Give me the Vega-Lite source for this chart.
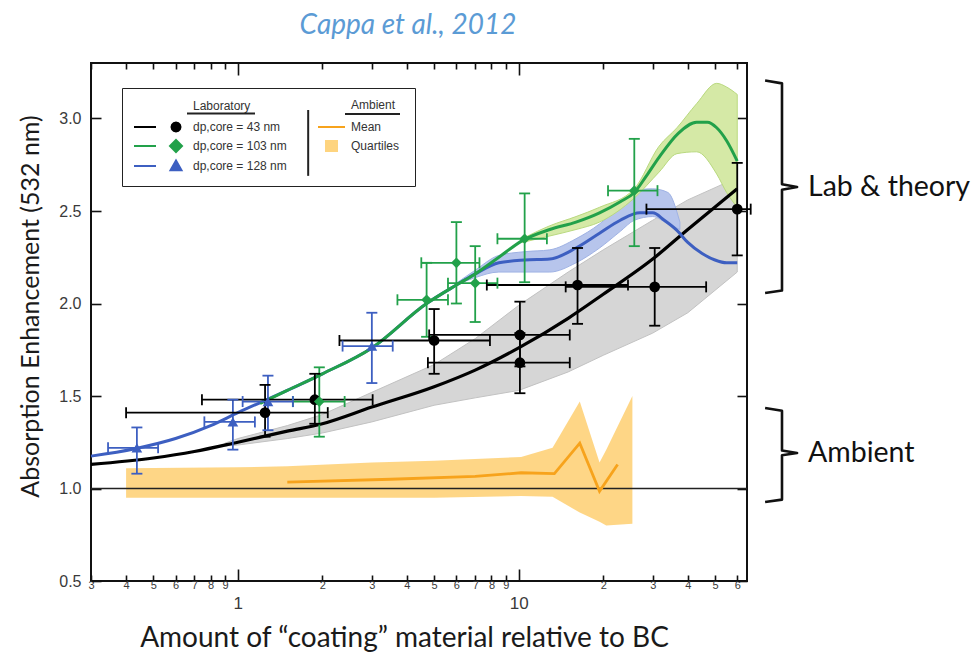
{
  "$schema": "https://vega.github.io/schema/vega-lite/v6.json",
  "width": 656,
  "height": 518,
  "autosize": {"type": "none"},
  "padding": {"left": 91, "top": 63, "right": 226, "bottom": 76},
  "background": "white",
  "title": {"text": "Cappa et al., 2012", "font": "Lato", "fontSize": 28, "fontStyle": "italic", "fontWeight": "normal", "color": "#5b9bd5", "anchor": "middle", "dx": -11, "offset": 22},
  "config": {
    "view": {"stroke": "#111", "strokeWidth": 2},
    "axis": {"grid": false, "domain": false, "labelFont": "Liberation Sans", "labelColor": "#3a3a3a", "tickColor": "#111", "tickWidth": 1.6, "titleFont": "Lato", "titleFontWeight": "normal", "titleColor": "#1a1a1a"}
  },
  "resolve": {"axis": {"x": "independent", "y": "independent"}},
  "datasets": {
    "curves": [
      {"s":"d43","x":0.3,"y":1.13},{"s":"d43","x":0.5,"y":1.165},{"s":"d43","x":0.7,"y":1.2},{"s":"d43","x":1,"y":1.25},{"s":"d43","x":1.5,"y":1.31},{"s":"d43","x":2,"y":1.35},{"s":"d43","x":3,"y":1.44},{"s":"d43","x":5,"y":1.55},{"s":"d43","x":7,"y":1.64},{"s":"d43","x":10,"y":1.76},{"s":"d43","x":15,"y":1.92},{"s":"d43","x":20,"y":2.05},{"s":"d43","x":30,"y":2.24},{"s":"d43","x":40,"y":2.4},{"s":"d43","x":60,"y":2.62},
      {"s":"d128","x":0.3,"y":1.175},{"s":"d128","x":0.43,"y":1.215},{"s":"d128","x":0.6,"y":1.27},{"s":"d128","x":0.8,"y":1.34},{"s":"d128","x":1,"y":1.41},{"s":"d128","x":1.5,"y":1.53},{"s":"d128","x":2,"y":1.62},{"s":"d128","x":3,"y":1.76},{"s":"d128","x":4.7,"y":2.0},{"s":"d128","x":6,"y":2.1},{"s":"d128","x":7,"y":2.16},{"s":"d128","x":8.5,"y":2.22},{"s":"d128","x":10.5,"y":2.235},{"s":"d128","x":12.9,"y":2.24},{"s":"d128","x":16,"y":2.3},{"s":"d128","x":19.4,"y":2.38},{"s":"d128","x":23,"y":2.45},{"s":"d128","x":27,"y":2.49},{"s":"d128","x":30,"y":2.49},{"s":"d128","x":33,"y":2.45},{"s":"d128","x":36.6,"y":2.395},{"s":"d128","x":40,"y":2.33},{"s":"d128","x":45,"y":2.27},{"s":"d128","x":50,"y":2.235},{"s":"d128","x":55,"y":2.22},{"s":"d128","x":60,"y":2.22},
      {"s":"d103","x":1.2,"y":1.46},{"s":"d103","x":1.5,"y":1.53},{"s":"d103","x":2,"y":1.62},{"s":"d103","x":3,"y":1.76},{"s":"d103","x":4.7,"y":2.0},{"s":"d103","x":6,"y":2.1},{"s":"d103","x":7,"y":2.16},{"s":"d103","x":8.5,"y":2.25},{"s":"d103","x":10.3,"y":2.34},{"s":"d103","x":12.9,"y":2.4},{"s":"d103","x":16,"y":2.44},{"s":"d103","x":19.4,"y":2.49},{"s":"d103","x":23,"y":2.55},{"s":"d103","x":25.8,"y":2.6},{"s":"d103","x":28.5,"y":2.69},{"s":"d103","x":31.6,"y":2.79},{"s":"d103","x":37,"y":2.92},{"s":"d103","x":43,"y":2.98},{"s":"d103","x":47,"y":2.98},{"s":"d103","x":50.7,"y":2.95},{"s":"d103","x":55,"y":2.88},{"s":"d103","x":60,"y":2.77}
    ],
    "bands": [
      {"s":"d43","x":0.9,"lo":1.23,"hi":1.245},{"s":"d43","x":1,"lo":1.235,"hi":1.27},{"s":"d43","x":1.5,"lo":1.27,"hi":1.34},{"s":"d43","x":2,"lo":1.3,"hi":1.4},{"s":"d43","x":3,"lo":1.36,"hi":1.52},{"s":"d43","x":5,"lo":1.45,"hi":1.67},{"s":"d43","x":7,"lo":1.49,"hi":1.81},{"s":"d43","x":10,"lo":1.53,"hi":1.99},{"s":"d43","x":15,"lo":1.63,"hi":2.17},{"s":"d43","x":20,"lo":1.72,"hi":2.29},{"s":"d43","x":30,"lo":1.84,"hi":2.45},{"s":"d43","x":40,"lo":1.95,"hi":2.56},{"s":"d43","x":60,"lo":2.17,"hi":2.68},
      {"s":"d103","x":10.3,"lo":2.33,"hi":2.35},{"s":"d103","x":12.9,"lo":2.365,"hi":2.42},{"s":"d103","x":16,"lo":2.4,"hi":2.47},{"s":"d103","x":19.4,"lo":2.44,"hi":2.52},{"s":"d103","x":25.8,"lo":2.57,"hi":2.62},{"s":"d103","x":31.6,"lo":2.71,"hi":2.85},{"s":"d103","x":36.6,"lo":2.81,"hi":2.95},{"s":"d103","x":43,"lo":2.82,"hi":3.08},{"s":"d103","x":50.7,"lo":2.7,"hi":3.19},{"s":"d103","x":55,"lo":2.6,"hi":3.17},{"s":"d103","x":60,"lo":2.52,"hi":3.13},
      {"s":"d128","x":6,"lo":2.1,"hi":2.11},{"s":"d128","x":7,"lo":2.14,"hi":2.18},{"s":"d128","x":8.5,"lo":2.17,"hi":2.26},{"s":"d128","x":10.5,"lo":2.17,"hi":2.28},{"s":"d128","x":12.9,"lo":2.17,"hi":2.29},{"s":"d128","x":16,"lo":2.22,"hi":2.35},{"s":"d128","x":19.4,"lo":2.3,"hi":2.43},{"s":"d128","x":23,"lo":2.39,"hi":2.53},{"s":"d128","x":25.8,"lo":2.45,"hi":2.61},{"s":"d128","x":30,"lo":2.47,"hi":2.62},{"s":"d128","x":34,"lo":2.43,"hi":2.6},{"s":"d128","x":37.5,"lo":2.4,"hi":2.44}
    ],
    "quart": [
      {"s":"Quartiles","x":0.4,"lo":0.95,"hi":1.11},{"s":"Quartiles","x":1,"lo":0.95,"hi":1.115},{"s":"Quartiles","x":1.5,"lo":0.95,"hi":1.12},{"s":"Quartiles","x":3,"lo":0.95,"hi":1.14},{"s":"Quartiles","x":5,"lo":0.95,"hi":1.15},{"s":"Quartiles","x":10.2,"lo":0.96,"hi":1.17},{"s":"Quartiles","x":13.2,"lo":0.955,"hi":1.22},{"s":"Quartiles","x":16.5,"lo":0.87,"hi":1.47},{"s":"Quartiles","x":19.4,"lo":0.82,"hi":1.14},{"s":"Quartiles","x":20.5,"lo":0.8,"hi":1.21},{"s":"Quartiles","x":25.4,"lo":0.81,"hi":1.5}
    ],
    "mean": [
      {"s":"Mean","x":1.5,"y":1.035},{"s":"Mean","x":3.5,"y":1.05},{"s":"Mean","x":7,"y":1.065},{"s":"Mean","x":10.2,"y":1.085},{"s":"Mean","x":13.4,"y":1.08},{"s":"Mean","x":16.5,"y":1.245},{"s":"Mean","x":19.4,"y":0.985},{"s":"Mean","x":22.5,"y":1.13}
    ],
    "pts": [
      {"s":"d43","x":1.25,"y":1.41,"xlo":0.4,"xhi":2.09,"ylo":1.28,"yhi":1.56},
      {"s":"d43","x":1.88,"y":1.48,"xlo":0.745,"xhi":3.02,"ylo":1.35,"yhi":1.62},
      {"s":"d43","x":5.0,"y":1.8,"xlo":2.3,"xhi":7.9,"ylo":1.62,"yhi":1.97},
      {"s":"d43","x":10.1,"y":1.83,"xlo":4.8,"xhi":15.2,"ylo":1.66,"yhi":2.01},
      {"s":"d43","x":10.1,"y":1.68,"xlo":4.75,"xhi":15.2,"ylo":1.515,"yhi":1.84},
      {"s":"d43","x":16.2,"y":2.1,"xlo":7.7,"xhi":24.5,"ylo":1.89,"yhi":2.3},
      {"s":"d43","x":30.5,"y":2.09,"xlo":14.7,"xhi":46.5,"ylo":1.88,"yhi":2.3},
      {"s":"d43","x":60,"y":2.51,"xlo":28.5,"xhi":67,"ylo":2.26,"yhi":2.76},
      {"s":"d103","x":1.95,"y":1.47,"xlo":1.57,"xhi":2.4,"ylo":1.28,"yhi":1.655},
      {"s":"d103","x":4.7,"y":2.02,"xlo":3.7,"xhi":5.6,"ylo":1.82,"yhi":2.22},
      {"s":"d103","x":6.0,"y":2.22,"xlo":4.5,"xhi":7.25,"ylo":2.0,"yhi":2.44},
      {"s":"d103","x":7.0,"y":2.11,"xlo":5.6,"xhi":8.4,"ylo":1.9,"yhi":2.31},
      {"s":"d103","x":10.5,"y":2.35,"xlo":8.4,"xhi":12.6,"ylo":2.115,"yhi":2.595},
      {"s":"d103","x":25.8,"y":2.61,"xlo":20.8,"xhi":31.2,"ylo":2.31,"yhi":2.89},
      {"s":"d128","x":0.437,"y":1.22,"xlo":0.345,"xhi":0.52,"ylo":1.08,"yhi":1.33},
      {"s":"d128","x":0.96,"y":1.36,"xlo":0.76,"xhi":1.15,"ylo":1.21,"yhi":1.48},
      {"s":"d128","x":1.28,"y":1.47,"xlo":1.04,"xhi":1.57,"ylo":1.315,"yhi":1.61},
      {"s":"d128","x":3.0,"y":1.77,"xlo":2.36,"xhi":3.56,"ylo":1.57,"yhi":1.95}
    ],
    "brace": [
      {"g":"lab","o":0,"x":75.4,"y":3.205},{"g":"lab","o":1,"x":86.6,"y":3.19},{"g":"lab","o":2,"x":86.6,"y":2.645},{"g":"lab","o":3,"x":98,"y":2.63},{"g":"lab","o":4,"x":86.6,"y":2.615},{"g":"lab","o":5,"x":86.6,"y":2.07},{"g":"lab","o":6,"x":75.4,"y":2.057},
      {"g":"amb","o":0,"x":75.4,"y":1.435},{"g":"amb","o":1,"x":86.6,"y":1.42},{"g":"amb","o":2,"x":86.6,"y":1.205},{"g":"amb","o":3,"x":98,"y":1.192},{"g":"amb","o":4,"x":86.6,"y":1.18},{"g":"amb","o":5,"x":86.6,"y":0.94},{"g":"amb","o":6,"x":75.4,"y":0.927}
    ]
  },
  "layer": [
    {
      "data": {"name": "quart"},
      "mark": {"type": "area", "opacity": 0.95},
      "encoding": {
        "x": {"field": "x", "type": "quantitative", "scale": {"type": "log", "domain": [0.3, 65], "nice": false}, "axis": null},
        "y": {"field": "lo", "type": "quantitative", "scale": {"domain": [0.5, 3.3], "nice": false, "zero": false}, "axis": null},
        "y2": {"field": "hi"},
        "color": {
          "field": "s", "type": "nominal",
          "scale": {"domain": ["hLab", "d43", "d103", "d128", "hAmb", "Mean", "Quartiles"], "range": ["#222222", "#000000", "#22a14a", "#3d5fc1", "#222222", "#f7a31c", "#fed47f"]},
          "legend": {
            "orient": "none", "legendX": 31, "legendY": 25, "direction": "vertical", "columns": 2, "title": null,
            "padding": 11, "strokeColor": "#222222", "fillColor": "transparent",
            "labelFont": "Liberation Sans", "labelFontSize": 12, "labelColor": "#333333", "labelLimit": 300,
            "symbolSize": 100, "symbolStrokeWidth": 2, "symbolOpacity": 1, "labelOffset": 48, "columnPadding": 4, "rowPadding": 0,
            "labelExpr": "datum.value==='hLab'?'Laboratory':datum.value==='hAmb'?'Ambient':datum.value==='d43'?'dp,core = 43 nm':datum.value==='d103'?'dp,core = 103 nm':datum.value==='d128'?'dp,core = 128 nm':datum.label"
          }
        }
      }
    },
    {
      "data": {"name": "pts"},
      "mark": {"type": "point", "size": 0, "opacity": 0, "filled": true},
      "encoding": {
        "x": {"field": "x", "type": "quantitative", "scale": {"type": "log", "domain": [0.3, 65], "nice": false}, "axis": null},
        "y": {"field": "y", "type": "quantitative", "scale": {"domain": [0.5, 3.3], "nice": false, "zero": false}, "axis": null},
        "shape": {
          "field": "s", "type": "nominal",
          "scale": {"domain": ["hLab", "d43", "d103", "d128", "hAmb", "Mean", "Quartiles"],
            "range": ["M9.6,1.6H23.2", "M-1,0H3.4M8.3,0L8.18,0.45L7.85,0.78L7.4,0.9L6.95,0.78L6.62,0.45L6.5,0L6.62,-0.45L6.95,-0.78L7.4,-0.9L7.85,-0.78L8.18,-0.45Z", "M-1,0H3.4M7.4,-1.2L8.6,0L7.4,1.2L6.2,0Z", "M-1,0H3.4M7.4,-1.1L8.5,0.85L6.3,0.85Z", "M9.6,1.8H20.6", "M4.2,0H9.6", "M5.8,-1H8V1H5.8Z"]},
          "legend": {
            "orient": "none", "legendX": 31, "legendY": 25, "direction": "vertical", "columns": 2, "title": null,
            "padding": 11, "strokeColor": "#222222", "fillColor": "transparent",
            "labelFont": "Liberation Sans", "labelFontSize": 12, "labelColor": "#333333", "labelLimit": 300,
            "symbolSize": 100, "symbolStrokeWidth": 2, "symbolOpacity": 1, "labelOffset": 48, "columnPadding": 4, "rowPadding": 0,
            "labelExpr": "datum.value==='hLab'?'Laboratory':datum.value==='hAmb'?'Ambient':datum.value==='d43'?'dp,core = 43 nm':datum.value==='d103'?'dp,core = 103 nm':datum.value==='d128'?'dp,core = 128 nm':datum.label"
          }
        }
      }
    },
    {
      "data": {"values": [{}]},
      "mark": {"type": "rule", "color": "#222222", "strokeWidth": 2},
      "encoding": {
        "x": {"datum": 1.78, "type": "quantitative", "scale": {"type": "log", "domain": [0.3, 65], "nice": false}, "axis": null},
        "y": {"datum": 3.046, "type": "quantitative", "scale": {"domain": [0.5, 3.3], "nice": false, "zero": false}, "axis": null},
        "y2": {"datum": 2.69}
      }
    },
    {
      "data": {"values": [{}]},
      "mark": {"type": "rule", "color": "#222222", "strokeWidth": 1.3},
      "encoding": {"y": {"datum": 1, "type": "quantitative", "scale": {"domain": [0.5, 3.3], "nice": false, "zero": false}, "axis": null}}
    },
    {
      "data": {"name": "bands"},
      "transform": [{"filter": "datum.s==='d43'"}],
      "mark": {"type": "area", "color": "#d6d6d6", "stroke": "#c2c2c2", "strokeWidth": 1},
      "encoding": {
        "x": {"field": "x", "type": "quantitative", "scale": {"type": "log", "domain": [0.3, 65], "nice": false}, "axis": null},
        "y": {"field": "lo", "type": "quantitative", "scale": {"domain": [0.5, 3.3], "nice": false, "zero": false}, "axis": null},
        "y2": {"field": "hi"}
      }
    },
    {
      "data": {"name": "bands"},
      "transform": [{"filter": "datum.s==='d128'"}],
      "mark": {"type": "area", "color": "#b7c5ec", "stroke": "#9fb2e4", "strokeWidth": 1, "interpolate": "monotone"},
      "encoding": {
        "x": {"field": "x", "type": "quantitative", "scale": {"type": "log", "domain": [0.3, 65], "nice": false}, "axis": null},
        "y": {"field": "lo", "type": "quantitative", "scale": {"domain": [0.5, 3.3], "nice": false, "zero": false}, "axis": null},
        "y2": {"field": "hi"}
      }
    },
    {
      "data": {"name": "bands"},
      "transform": [{"filter": "datum.s==='d103'"}],
      "mark": {"type": "area", "color": "#d5e9a6", "stroke": "#b9d97f", "strokeWidth": 1, "interpolate": "monotone"},
      "encoding": {
        "x": {"field": "x", "type": "quantitative", "scale": {"type": "log", "domain": [0.3, 65], "nice": false}, "axis": null},
        "y": {"field": "lo", "type": "quantitative", "scale": {"domain": [0.5, 3.3], "nice": false, "zero": false}, "axis": null},
        "y2": {"field": "hi"}
      }
    },
    {
      "data": {"name": "mean"},
      "mark": {"type": "line", "strokeWidth": 2.8},
      "encoding": {
        "x": {"field": "x", "type": "quantitative", "scale": {"type": "log", "domain": [0.3, 65], "nice": false}, "axis": null},
        "y": {"field": "y", "type": "quantitative", "scale": {"domain": [0.5, 3.3], "nice": false, "zero": false}, "axis": null},
        "color": {"field": "s", "type": "nominal"}
      }
    },
    {
      "data": {"name": "curves"},
      "transform": [{"filter": "datum.s==='d43'"}],
      "mark": {"type": "line", "strokeWidth": 3.2, "interpolate": "monotone"},
      "encoding": {
        "x": {"field": "x", "type": "quantitative", "scale": {"type": "log", "domain": [0.3, 65], "nice": false},
          "axis": {"orient": "bottom", "values": [0.3,0.4,0.5,0.6,0.7,0.8,0.9,1,2,3,4,5,6,7,8,9,10,20,30,40,50,60],
            "labelExpr": "datum.value==1?'1':datum.value==10?'10':datum.value<1?format(datum.value*10,'.0f'):datum.value<10?format(datum.value,'.0f'):format(datum.value/10,'.0f')",
            "labelFontSize": {"condition": {"test": "datum.value==1||datum.value==10", "value": 17}, "value": 11},
            "labelPadding": {"condition": {"test": "datum.value==1||datum.value==10", "value": 26}, "value": 4},
            "tickSize": {"condition": {"test": "datum.value==1||datum.value==10", "value": -12}, "value": -6},
            "labelFlush": false, "labelOverlap": false,
            "title": "Amount of “coating” material relative to BC", "titleFontSize": 28, "titleX": 313, "titleY": 57, "titleBaseline": "middle", "titleAlign": "center"}},
        "y": {"field": "y", "type": "quantitative", "scale": {"domain": [0.5, 3.3], "nice": false, "zero": false},
          "axis": {"orient": "left", "values": [0.5,1,1.5,2,2.5,3], "format": ".1f", "labelFontSize": 16, "labelPadding": 20, "tickSize": -10,
            "title": "Absorption Enhancement (532 nm)", "titleFontSize": 25, "titleX": -61, "titleY": 243, "titleAngle": -90, "titleAlign": "center", "titleBaseline": "middle"}},
        "color": {"field": "s", "type": "nominal"}
      }
    },
    {
      "data": {"name": "curves"},
      "transform": [{"filter": "datum.s==='d128'"}],
      "mark": {"type": "line", "strokeWidth": 3, "interpolate": "monotone"},
      "encoding": {
        "x": {"field": "x", "type": "quantitative", "scale": {"type": "log", "domain": [0.3, 65], "nice": false},
          "axis": {"orient": "top", "values": [0.3,0.4,0.5,0.6,0.7,0.8,0.9,1,2,3,4,5,6,7,8,9,10,20,30,40,50,60], "labels": false, "title": null,
            "tickSize": {"condition": {"test": "datum.value==1||datum.value==10", "value": -12}, "value": -6}}},
        "y": {"field": "y", "type": "quantitative", "scale": {"domain": [0.5, 3.3], "nice": false, "zero": false},
          "axis": {"orient": "right", "values": [0.5,1,1.5,2,2.5,3], "labels": false, "tickSize": -10, "title": null}},
        "color": {"field": "s", "type": "nominal"}
      }
    },
    {
      "data": {"name": "curves"},
      "transform": [{"filter": "datum.s==='d103'"}],
      "mark": {"type": "line", "strokeWidth": 3, "interpolate": "monotone"},
      "encoding": {
        "x": {"field": "x", "type": "quantitative", "scale": {"type": "log", "domain": [0.3, 65], "nice": false}, "axis": null},
        "y": {"field": "y", "type": "quantitative", "scale": {"domain": [0.5, 3.3], "nice": false, "zero": false}, "axis": null},
        "color": {"field": "s", "type": "nominal"}
      }
    },
    {
      "data": {"name": "pts"},
      "mark": {"type": "rule", "strokeWidth": 1.8},
      "encoding": {
        "x": {"field": "x", "type": "quantitative", "scale": {"type": "log", "domain": [0.3, 65], "nice": false}, "axis": null},
        "y": {"field": "ylo", "type": "quantitative", "scale": {"domain": [0.5, 3.3], "nice": false, "zero": false}, "axis": null},
        "y2": {"field": "yhi"},
        "color": {"field": "s", "type": "nominal"}
      }
    },
    {
      "data": {"name": "pts"},
      "mark": {"type": "rule", "strokeWidth": 1.8},
      "encoding": {
        "x": {"field": "xlo", "type": "quantitative", "scale": {"type": "log", "domain": [0.3, 65], "nice": false}, "axis": null},
        "x2": {"field": "xhi"},
        "y": {"field": "y", "type": "quantitative", "scale": {"domain": [0.5, 3.3], "nice": false, "zero": false}, "axis": null},
        "color": {"field": "s", "type": "nominal"}
      }
    },
    {
      "data": {"name": "pts"},
      "mark": {"type": "tick", "orient": "horizontal", "size": 11, "thickness": 1.8, "opacity": 1},
      "encoding": {
        "x": {"field": "x", "type": "quantitative", "scale": {"type": "log", "domain": [0.3, 65], "nice": false}, "axis": null},
        "y": {"field": "ylo", "type": "quantitative", "scale": {"domain": [0.5, 3.3], "nice": false, "zero": false}, "axis": null},
        "color": {"field": "s", "type": "nominal"}
      }
    },
    {
      "data": {"name": "pts"},
      "mark": {"type": "tick", "orient": "horizontal", "size": 11, "thickness": 1.8, "opacity": 1},
      "encoding": {
        "x": {"field": "x", "type": "quantitative", "scale": {"type": "log", "domain": [0.3, 65], "nice": false}, "axis": null},
        "y": {"field": "yhi", "type": "quantitative", "scale": {"domain": [0.5, 3.3], "nice": false, "zero": false}, "axis": null},
        "color": {"field": "s", "type": "nominal"}
      }
    },
    {
      "data": {"name": "pts"},
      "mark": {"type": "tick", "orient": "vertical", "size": 11, "thickness": 1.8, "opacity": 1},
      "encoding": {
        "x": {"field": "xlo", "type": "quantitative", "scale": {"type": "log", "domain": [0.3, 65], "nice": false}, "axis": null},
        "y": {"field": "y", "type": "quantitative", "scale": {"domain": [0.5, 3.3], "nice": false, "zero": false}, "axis": null},
        "color": {"field": "s", "type": "nominal"}
      }
    },
    {
      "data": {"name": "pts"},
      "mark": {"type": "tick", "orient": "vertical", "size": 11, "thickness": 1.8, "opacity": 1},
      "encoding": {
        "x": {"field": "xhi", "type": "quantitative", "scale": {"type": "log", "domain": [0.3, 65], "nice": false}, "axis": null},
        "y": {"field": "y", "type": "quantitative", "scale": {"domain": [0.5, 3.3], "nice": false, "zero": false}, "axis": null},
        "color": {"field": "s", "type": "nominal"}
      }
    },
    {
      "data": {"name": "pts"},
      "transform": [{"filter": "datum.s==='d43'"}],
      "mark": {"type": "point", "shape": "circle", "filled": true, "size": 115, "opacity": 1},
      "encoding": {
        "x": {"field": "x", "type": "quantitative", "scale": {"type": "log", "domain": [0.3, 65], "nice": false}, "axis": null},
        "y": {"field": "y", "type": "quantitative", "scale": {"domain": [0.5, 3.3], "nice": false, "zero": false}, "axis": null},
        "color": {"field": "s", "type": "nominal"}
      }
    },
    {
      "data": {"name": "pts"},
      "transform": [{"filter": "datum.s==='d103'"}],
      "mark": {"type": "point", "shape": "diamond", "filled": true, "size": 115, "opacity": 1},
      "encoding": {
        "x": {"field": "x", "type": "quantitative", "scale": {"type": "log", "domain": [0.3, 65], "nice": false}, "axis": null},
        "y": {"field": "y", "type": "quantitative", "scale": {"domain": [0.5, 3.3], "nice": false, "zero": false}, "axis": null},
        "color": {"field": "s", "type": "nominal"}
      }
    },
    {
      "data": {"name": "pts"},
      "transform": [{"filter": "datum.s==='d128'"}],
      "mark": {"type": "point", "shape": "triangle-up", "filled": true, "size": 115, "opacity": 1},
      "encoding": {
        "x": {"field": "x", "type": "quantitative", "scale": {"type": "log", "domain": [0.3, 65], "nice": false}, "axis": null},
        "y": {"field": "y", "type": "quantitative", "scale": {"domain": [0.5, 3.3], "nice": false, "zero": false}, "axis": null},
        "color": {"field": "s", "type": "nominal"}
      }
    },
    {
      "data": {"name": "brace"},
      "mark": {"type": "line", "color": "#111111", "strokeWidth": 2.6, "strokeJoin": "round"},
      "encoding": {
        "x": {"field": "x", "type": "quantitative", "scale": {"type": "log", "domain": [0.3, 65], "nice": false}, "axis": null},
        "y": {"field": "y", "type": "quantitative", "scale": {"domain": [0.5, 3.3], "nice": false, "zero": false}, "axis": null},
        "detail": {"field": "g"},
        "order": {"field": "o"}
      }
    },
    {
      "data": {"values": [{}]},
      "mark": {"type": "text", "align": "left", "baseline": "middle", "font": "Lato", "fontSize": 28.5, "color": "#111111"},
      "encoding": {
        "x": {"datum": 107.2, "type": "quantitative", "scale": {"type": "log", "domain": [0.3, 65], "nice": false}, "axis": null},
        "y": {"datum": 2.63, "type": "quantitative", "scale": {"domain": [0.5, 3.3], "nice": false, "zero": false}, "axis": null},
        "text": {"value": "Lab & theory"}
      }
    },
    {
      "data": {"values": [{}]},
      "mark": {"type": "text", "align": "left", "baseline": "middle", "font": "Lato", "fontSize": 28.5, "color": "#111111"},
      "encoding": {
        "x": {"datum": 107.2, "type": "quantitative", "scale": {"type": "log", "domain": [0.3, 65], "nice": false}, "axis": null},
        "y": {"datum": 1.192, "type": "quantitative", "scale": {"domain": [0.5, 3.3], "nice": false, "zero": false}, "axis": null},
        "text": {"value": "Ambient"}
      }
    }
  ]
}
